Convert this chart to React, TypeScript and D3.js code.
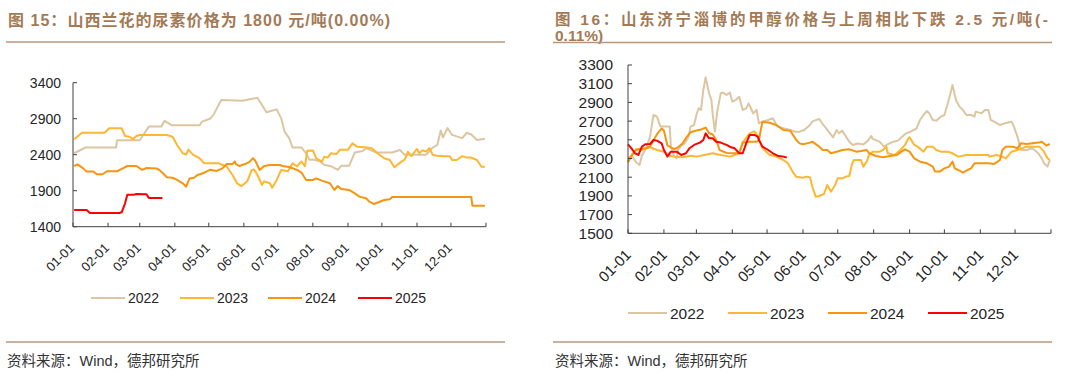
import React from "react";
import * as d3 from "d3";

// ---------- DATA ----------
const monthTicks = ["01-01","02-01","03-01","04-01","05-01","06-01","07-01","08-01","09-01","10-01","11-01","12-01"];
const seriesNames = ["2022", "2023", "2024", "2025"];
const seriesColors = ["#dcc6a1", "#fdb733", "#f7950f", "#ff0000"];

const ureaTicks = [1400, 1900, 2400, 2900, 3400];
const methanolTicks = [1500, 1700, 1900, 2100, 2300, 2500, 2700, 2900, 3100, 3300];

const urea2022: [string, number][] = [["01-02",2420],["01-12",2500],["02-08",2500],["02-09",2600],["03-01",2600],["03-09",2790],["03-20",2790],["03-23",2870],["03-29",2810],["04-23",2810],["04-25",2860],["05-02",2900],["05-05",2950],["05-12",3160],["05-31",3150],["06-03",3160],["06-13",3190],["06-21",2990],["06-30",3030],["07-04",2905],["07-07",2720],["07-11",2630],["07-14",2500],["07-22",2500],["07-26",2420],["07-29",2330],["08-02",2330],["08-07",2310],["08-11",2260],["08-17",2240],["08-23",2190],["08-26",2245],["09-02",2245],["09-07",2430],["09-14",2450],["09-17",2490],["09-20",2470],["09-26",2430],["10-10",2430],["10-17",2465],["10-21",2400],["11-09",2400],["11-15",2500],["11-19",2535],["11-22",2735],["11-24",2640],["11-28",2770],["12-02",2675],["12-11",2630],["12-15",2705],["12-19",2680],["12-24",2605],["12-31",2620]];
const urea2023: [string, number][] = [["01-02",2614],["01-09",2706],["01-29",2706],["02-02",2767],["02-13",2767],["02-16",2660],["02-20",2650],["02-23",2614],["02-26",2660],["03-01",2673],["03-25",2673],["03-30",2650],["04-03",2535],["04-08",2420],["04-11",2400],["04-13",2470],["04-17",2400],["04-23",2350],["04-27",2280],["05-10",2280],["05-17",2233],["05-22",2118],["05-26",2003],["05-30",1965],["06-04",2030],["06-08",2188],["06-10",2195],["06-13",2118],["06-17",1980],["06-19",2030],["06-24",2003],["06-26",1942],["06-30",2050],["07-04",2188],["07-10",2170],["07-14",2280],["07-18",2240],["07-22",2305],["07-25",2240],["07-27",2456],["08-01",2460],["08-04",2350],["08-09",2303],["08-11",2370],["08-14",2360],["08-17",2420],["08-22",2410],["08-25",2470],["09-01",2470],["09-05",2558],["09-09",2512],["09-16",2503],["09-22",2490],["09-27",2420],["10-03",2350],["10-08",2327],["10-12",2225],["10-18",2300],["10-21",2330],["10-24",2440],["10-27",2380],["11-01",2480],["11-03",2420],["11-06",2460],["11-09",2445],["11-12",2490],["11-15",2396],["11-19",2385],["11-24",2380],["11-30",2380],["12-02",2327],["12-06",2327],["12-11",2380],["12-15",2360],["12-19",2360],["12-24",2327],["12-28",2233],["12-31",2233]];
const urea2024: [string, number][] = [["01-02",2243],["01-05",2265],["01-10",2210],["01-13",2165],["01-19",2165],["01-22",2128],["01-27",2128],["01-31",2170],["02-09",2170],["02-14",2210],["02-18",2243],["02-26",2243],["03-03",2190],["03-07",2215],["03-16",2210],["03-18",2190],["03-21",2150],["03-25",2086],["03-30",2080],["04-03",2049],["04-08",2003],["04-11",1956],["04-14",2070],["04-18",2080],["04-21",2118],["04-27",2150],["05-02",2190],["05-08",2175],["05-13",2210],["05-17",2270],["05-22",2270],["05-24",2307],["05-25",2270],["05-28",2243],["06-02",2270],["06-06",2300],["06-09",2350],["06-11",2320],["06-15",2188],["06-19",2243],["06-24",2257],["07-03",2257],["07-05",2243],["07-11",2230],["07-18",2188],["07-22",2150],["07-26",2049],["08-01",2049],["08-04",2070],["08-09",2040],["08-16",2003],["08-20",1910],["08-23",1965],["08-26",1925],["09-02",1910],["09-07",1864],["09-11",1818],["09-17",1795],["09-20",1747],["09-24",1715],["09-29",1747],["10-03",1770],["10-08",1780],["10-10",1812],["12-19",1812],["12-20",1692],["12-31",1692]];
const urea2025: [string, number][] = [["01-02",1632],["01-13",1632],["01-16",1590],["02-11",1590],["02-13",1600],["02-16",1725],["02-18",1845],["02-24",1845],["02-26",1855],["03-07",1850],["03-09",1800],["03-21",1800]];

const meth2022: [string, number][] = [["01-01",2290],["01-04",2330],["01-08",2260],["01-11",2231],["01-13",2330],["01-17",2420],["01-20",2534],["01-23",2765],["01-26",2748],["01-29",2641],["02-01",2641],["02-06",2641],["02-07",2427],["02-10",2320],["02-12",2302],["02-13",2391],["02-16",2438],["02-19",2462],["02-22",2527],["02-24",2641],["02-27",2658],["03-01",2765],["03-03",2837],["03-05",2819],["03-07",3033],["03-09",3168],["03-12",2997],["03-14",2926],["03-15",2783],["03-17",2587],["03-18",2694],["03-19",2801],["03-22",2997],["03-24",3004],["03-27",2979],["03-30",3004],["04-01",2908],["04-04",2926],["04-07",2961],["04-10",2819],["04-13",2837],["04-15",2890],["04-17",2837],["04-19",2783],["04-22",2819],["04-24",2676],["04-27",2694],["05-02",2712],["05-06",2730],["05-10",2641],["05-15",2623],["05-21",2605],["05-25",2587],["05-29",2587],["06-02",2605],["06-07",2658],["06-09",2694],["06-12",2710],["06-15",2723],["06-18",2669],["06-22",2605],["06-27",2527],["06-30",2605],["07-02",2570],["07-05",2598],["07-08",2534],["07-11",2480],["07-14",2445],["07-18",2460],["07-23",2450],["07-27",2491],["07-30",2541],["07-31",2510],["08-06",2480],["08-10",2427],["08-12",2445],["08-18",2480],["08-22",2491],["08-25",2527],["08-29",2569],["09-02",2587],["09-07",2623],["09-10",2712],["09-13",2765],["09-16",2808],["09-18",2783],["09-21",2712],["09-24",2705],["09-28",2748],["10-01",2765],["10-04",2890],["10-07",3033],["10-08",3086],["10-11",2926],["10-14",2855],["10-17",2819],["10-20",2765],["10-24",2765],["10-27",2748],["10-28",2801],["11-02",2783],["11-05",2819],["11-08",2819],["11-10",2712],["11-13",2694],["11-18",2658],["11-22",2676],["11-28",2694],["11-30",2641],["12-03",2534],["12-06",2391],["12-11",2391],["12-16",2409],["12-21",2356],["12-24",2302],["12-26",2249],["12-29",2213],["12-31",2284]];
const meth2023: [string, number][] = [["01-01",2300],["01-04",2330],["01-08",2400],["01-13",2391],["01-17",2409],["01-20",2420],["01-26",2391],["02-01",2373],["02-06",2330],["02-10",2320],["02-17",2313],["02-24",2330],["03-01",2320],["03-08",2338],["03-15",2356],["03-22",2338],["03-30",2320],["04-03",2338],["04-07",2356],["04-10",2470],["04-13",2520],["04-16",2569],["04-20",2590],["04-23",2540],["04-27",2409],["05-03",2340],["05-09",2320],["05-15",2284],["05-19",2250],["05-23",2160],["05-26",2106],["06-01",2095],["06-04",2106],["06-07",2100],["06-09",2000],["06-12",1892],["06-15",1899],["06-19",1920],["06-22",2017],["06-25",1946],["06-28",2000],["07-01",2088],["07-05",2088],["07-08",2106],["07-11",2113],["07-13",2231],["07-15",2284],["07-21",2284],["07-23",2213],["07-26",2266],["07-28",2338],["07-31",2373],["08-06",2373],["08-09",2391],["08-12",2427],["08-13",2356],["08-19",2338],["08-24",2391],["08-28",2445],["08-31",2516],["09-01",2527],["09-05",2445],["09-08",2427],["09-13",2373],["09-16",2427],["09-21",2427],["09-24",2391],["09-28",2373],["10-04",2373],["10-08",2356],["10-13",2320],["10-20",2338],["10-27",2338],["11-08",2338],["11-09",2320],["11-15",2338],["11-20",2320],["11-23",2302],["11-28",2373],["12-03",2391],["12-11",2427],["12-16",2427],["12-22",2427],["12-26",2373],["12-29",2302],["12-31",2284]];
const meth2024: [string, number][] = [["01-01",2260],["01-04",2330],["01-08",2391],["01-10",2400],["01-16",2410],["01-20",2427],["01-26",2560],["01-30",2620],["02-01",2600],["02-04",2440],["02-07",2420],["02-10",2400],["02-13",2420],["02-17",2460],["02-20",2520],["02-24",2580],["03-01",2600],["03-05",2610],["03-09",2630],["03-12",2570],["03-15",2560],["03-18",2500],["03-21",2391],["03-27",2360],["04-03",2356],["04-07",2360],["04-10",2470],["04-16",2480],["04-22",2480],["04-24",2500],["04-27",2694],["05-03",2683],["05-09",2658],["05-15",2605],["05-21",2598],["05-26",2500],["05-29",2462],["06-01",2452],["06-07",2470],["06-09",2480],["06-15",2427],["06-18",2391],["06-22",2391],["06-25",2356],["06-30",2373],["07-05",2391],["07-11",2398],["07-17",2373],["07-21",2380],["07-26",2391],["07-28",2356],["08-03",2327],["08-09",2313],["08-15",2327],["08-21",2338],["08-25",2373],["08-28",2398],["09-01",2373],["09-05",2302],["09-10",2266],["09-16",2249],["09-21",2213],["09-23",2160],["09-27",2160],["10-01",2195],["10-05",2213],["10-08",2266],["10-10",2195],["10-13",2177],["10-17",2149],["10-21",2177],["10-24",2195],["10-27",2249],["11-02",2249],["11-08",2249],["11-13",2242],["11-18",2284],["11-20",2391],["11-23",2427],["11-29",2427],["12-03",2409],["12-06",2462],["12-11",2455],["12-21",2470],["12-24",2480],["12-28",2438],["12-31",2455]];
const meth2025: [string, number][] = [["01-01",2452],["01-04",2409],["01-07",2356],["01-10",2338],["01-13",2427],["01-16",2452],["01-20",2455],["01-23",2498],["01-26",2491],["01-30",2462],["02-01",2391],["02-04",2320],["02-07",2373],["02-12",2373],["02-16",2338],["02-20",2356],["02-23",2409],["02-27",2445],["03-04",2470],["03-07",2498],["03-09",2569],["03-12",2516],["03-15",2516],["03-18",2480],["03-22",2470],["03-27",2445],["03-31",2420],["04-03",2409],["04-07",2356],["04-10",2356],["04-13",2462],["04-16",2552],["04-20",2552],["04-23",2534],["04-24",2498],["04-27",2427],["05-02",2391],["05-06",2356],["05-10",2330],["05-15",2320],["05-18",2310]];

const leftTitle = "图 15：山西兰花的尿素价格为 1800 元/吨(0.00%)";
const rightTitle1 = "图 16：山东济宁淄博的甲醇价格与上周相比下跌 2.5 元/吨(-";
const rightTitle2 = "0.11%)";
const sourceText = "资料来源：Wind，德邦研究所";

// ---------- HELPERS ----------
const parseMD = (s: string) => {
  const [m, d] = s.split("-").map(Number);
  return new Date(2023, m - 1, d);
};
const FONT = "'Liberation Sans', Arial, 'Noto Sans CJK SC', sans-serif";
const TITLE_COLOR = "#a47a56";
const RULE_COLOR = "#b8967c";
const AXIS_COLOR = "#404040";
const TEXT_COLOR = "#262626";

type ChartProps = {
  x0: number; x1: number; yTop: number; yBot: number;
  ticks: number[]; series: [string, number][][];
  yFont: number; yLabelGap: number; xFont: number; xdx: number; xdy: number;
  legendY: number; legendXs: number[]; legendW: number; legendFont: number;
};

function Chart(p: ChartProps) {
  const x = d3.scaleTime().domain([new Date(2023, 0, 1), new Date(2024, 0, 1)]).range([p.x0, p.x1]);
  const y = d3.scaleLinear().domain([p.ticks[0], p.ticks[p.ticks.length - 1]]).range([p.yBot, p.yTop]);
  const line = d3.line<[string, number]>().x(d => x(parseMD(d[0]))).y(d => y(d[1]));
  return (
    <g>
      {p.series.map((s, i) => (
        <path key={i} d={line(s) || ""} fill="none" stroke={seriesColors[i]} strokeWidth={2} strokeLinejoin="round" />
      ))}
      <line x1={p.x0} x2={p.x0} y1={p.yTop} y2={p.yBot} stroke={AXIS_COLOR} strokeWidth={1} />
      <line x1={p.x0} x2={p.x1} y1={p.yBot} y2={p.yBot} stroke={AXIS_COLOR} strokeWidth={1} />
      {p.ticks.map(t => (
        <g key={t}>
          <line x1={p.x0} x2={p.x0 + 4} y1={y(t)} y2={y(t)} stroke={AXIS_COLOR} />
          <text x={p.x0 - p.yLabelGap} y={y(t)} dy="0.35em" textAnchor="end" fontSize={p.yFont} fill={TEXT_COLOR} fontFamily={FONT}>{t}</text>
        </g>
      ))}
      {[...monthTicks.map(parseMD), new Date(2024, 0, 1)].map((d, i) => (
        <line key={i} x1={x(d)} x2={x(d)} y1={p.yBot} y2={p.yBot - 4} stroke={AXIS_COLOR} />
      ))}
      {monthTicks.map(m => {
        const tx = x(parseMD(m)) + p.xdx;
        const ty = p.yBot + p.xdy;
        return (
          <text key={m} transform={`translate(${tx},${ty}) rotate(-45)`} textAnchor="end" fontSize={p.xFont} fill={TEXT_COLOR} fontFamily={FONT}>{m}</text>
        );
      })}
      {seriesNames.map((n, i) => (
        <g key={n}>
          <line x1={p.legendXs[i]} x2={p.legendXs[i] + p.legendW} y1={p.legendY} y2={p.legendY} stroke={seriesColors[i]} strokeWidth={2} />
          <text x={p.legendXs[i] + p.legendW + 3} y={p.legendY} dy="0.36em" fontSize={p.legendFont} fill={TEXT_COLOR} fontFamily={FONT}>{n}</text>
        </g>
      ))}
    </g>
  );
}

export default function App() {
  return (
    <svg width={1080} height={378} style={{ position: "absolute", left: 0, top: 0, background: "#fff" }}>
      {/* Left panel */}
      <text x={8} y={26} fontSize={16} fontWeight="bold" fill={TITLE_COLOR} fontFamily={FONT} textLength={382} lengthAdjust="spacing">{leftTitle}</text>
      <line x1={6} x2={505} y1={42} y2={42} stroke={RULE_COLOR} strokeWidth={1.5} />
      <Chart x0={73} x1={486} yTop={82.7} yBot={226.7} ticks={ureaTicks} series={[urea2022, urea2023, urea2024, urea2025]}
        yFont={14} yLabelGap={12} xFont={13} xdx={2} xdy={22}
        legendY={298} legendXs={[91, 180, 268, 358]} legendW={34} legendFont={14} />
      <line x1={6} x2={505} y1={342} y2={342} stroke={RULE_COLOR} strokeWidth={1.5} />
      <text x={7} y={366} fontSize={14.5} fill="#333" fontFamily={FONT}>{sourceText}</text>

      {/* Right panel */}
      <text x={555} y={25} fontSize={15.5} fontWeight="bold" fill={TITLE_COLOR} fontFamily={FONT} textLength={493} lengthAdjust="spacing">{rightTitle1}</text>
      <text x={555} y={40.5} fontSize={15.5} fontWeight="bold" fill={TITLE_COLOR} fontFamily={FONT}>{rightTitle2}</text>
      <line x1={553} x2={1052} y1={42.5} y2={42.5} stroke={RULE_COLOR} strokeWidth={1.5} />
      <Chart x0={628} x1={1051} yTop={65} yBot={233.3} ticks={methanolTicks} series={[meth2022, meth2023, meth2024, meth2025]}
        yFont={15.5} yLabelGap={15} xFont={15} xdx={4} xdy={22.5}
        legendY={313} legendXs={[628, 728, 828, 928]} legendW={39} legendFont={15.5} />
      <line x1={553} x2={1052} y1={342} y2={342} stroke={RULE_COLOR} strokeWidth={1.5} />
      <text x={555} y={366} fontSize={14.5} fill="#333" fontFamily={FONT}>{sourceText}</text>
    </svg>
  );
}
